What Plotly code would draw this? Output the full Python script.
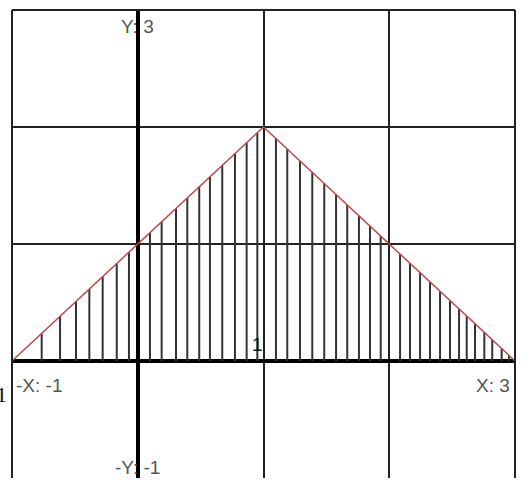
import plotly.graph_objects as go

# triangle outline (red)
line_x = [-1, 1, 3]
line_y = [0, 2, 0]

# vertical strips under the curve
stem_x = [-0.764, -0.618, -0.491, -0.385, -0.279, -0.167, -0.070,
          0.097, 0.190, 0.304, 0.394, 0.489, 0.574, 0.672, 0.773, 0.866, 0.951,
          1.099, 1.189, 1.290, 1.388, 1.483, 1.577, 1.666, 1.759, 1.847, 1.932,
          2.086, 2.165, 2.245, 2.324, 2.404, 2.483, 2.555, 2.616, 2.682, 2.756,
          2.819, 2.894, 2.952]
stem_y = [0.236, 0.382, 0.509, 0.615, 0.721, 0.833, 0.930,
          1.097, 1.190, 1.304, 1.394, 1.489, 1.574, 1.672, 1.773, 1.866, 1.951,
          1.901, 1.811, 1.710, 1.612, 1.517, 1.423, 1.334, 1.241, 1.153, 1.068,
          0.914, 0.835, 0.755, 0.676, 0.596, 0.517, 0.445, 0.384, 0.318, 0.244,
          0.181, 0.106, 0.048]

# stems as one trace broken by None
sx, sy = [], []
for x, y in zip(stem_x, stem_y):
    sx += [x, x, None]
    sy += [0, y, None]

fig = go.Figure()
fig.add_trace(go.Scatter(x=sx, y=sy, mode='lines',
                         line=dict(color='#333333', width=2), hoverinfo='skip'))
fig.add_trace(go.Scatter(x=line_x, y=line_y, mode='lines',
                         line=dict(color='#c04848', width=1.5)))

lbl = dict(family='Liberation Sans, Arial, sans-serif', size=19, color='#555555')
annos = [
    dict(x=0, y=2.86, text='Y: 3', xanchor='center'),
    dict(x=0, y=-0.906, text='-Y: -1', xanchor='center'),
    dict(x=-0.984, y=-0.21, text='-X: -1', xanchor='left'),
    dict(x=2.976, y=-0.21, text='X: 3', xanchor='right'),
    dict(x=1.012, y=0.137, text='1', xanchor='right',
         font=dict(family='Liberation Sans, Arial, sans-serif', size=19, color='#111111')),
]
for a in annos:
    a.update(xref='x', yref='y', showarrow=False, yanchor='middle')
    a.setdefault('font', lbl)
fig.update_layout(annotations=annos)
fig.add_annotation(x=-0.006, y=-0.29, xref='paper', yref='y', text='1',
                   xanchor='right', yanchor='middle', showarrow=False,
                   font=dict(family='Liberation Serif, serif', size=22, color='#111111'))

ax = dict(showgrid=True, gridcolor='#222222', gridwidth=1.5, dtick=1,
          zeroline=True, zerolinecolor='#000000', zerolinewidth=4,
          showticklabels=False, ticks='', showline=False, fixedrange=True)
fig.update_xaxes(range=[-1, 3], **ax)
fig.update_yaxes(range=[-1, 3], **ax)

# frame on top, left, right
for x0, y0, x1, y1 in [(0, 1, 1, 1), (0, 0, 0, 1), (1, 0, 1, 1)]:
    fig.add_shape(type='line', xref='paper', yref='paper', x0=x0, y0=y0, x1=x1, y1=y1,
                  line=dict(color='#222222', width=2))

fig.update_layout(
    width=522, height=480,
    margin=dict(l=12, r=7, t=10, b=2),
    plot_bgcolor='white', paper_bgcolor='white',
    showlegend=False,
)
fig.write_html("out.html", config={'displayModeBar': False},
               post_script="document.body.style.margin='0';")
